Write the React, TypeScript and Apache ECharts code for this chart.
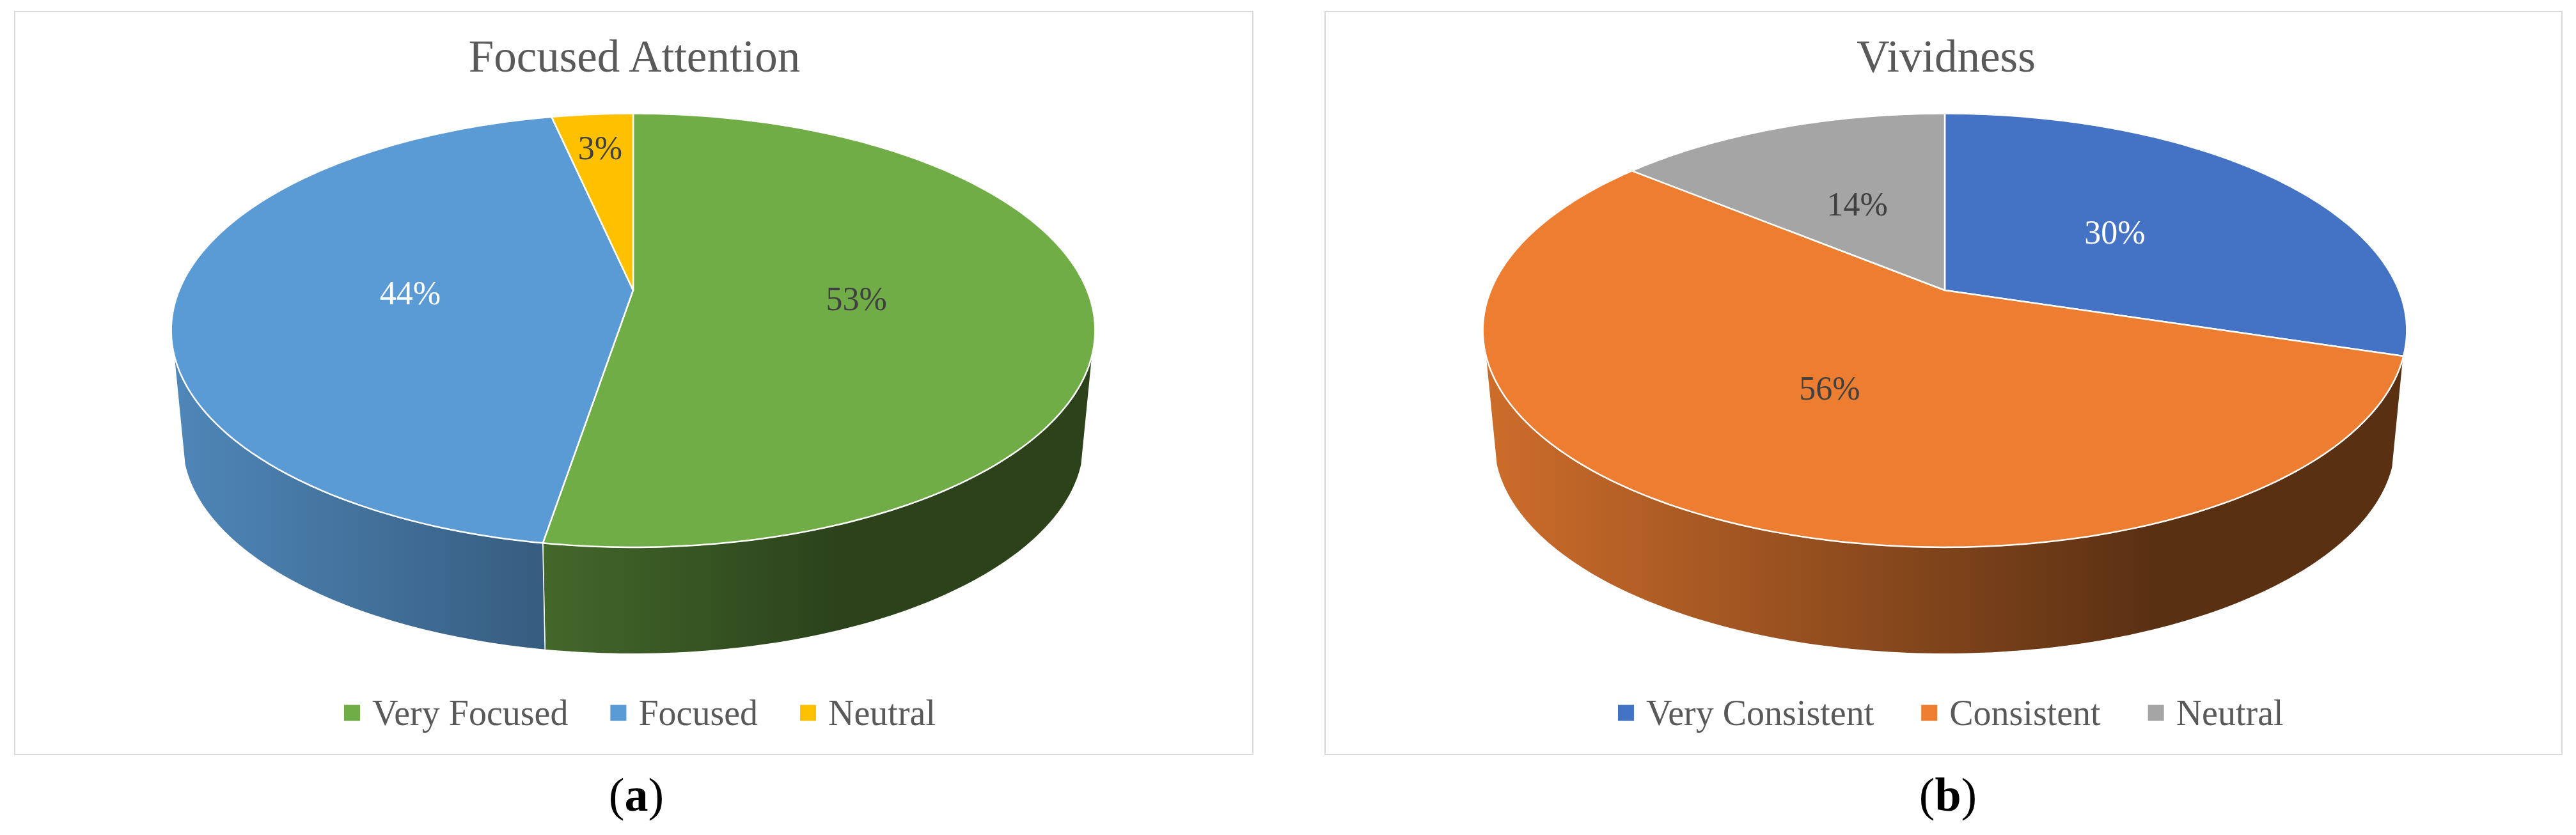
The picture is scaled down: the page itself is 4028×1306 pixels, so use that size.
import React, { useEffect, useRef } from "react";
import * as echarts from "echarts";

const focusedTitle = "Focused Attention";
const focusedCategories = ["Very Focused", "Focused", "Neutral"];
const focusedValues = [52.6, 44.0, 3.4];
const focusedColors = ["#70AD47", "#5B9BD5", "#FFC000"];
const focusedLabelColors = ["#404040", "#FFFFFF", "#404040"];
const focusedLabelRadii = [0.49, 0.49, 0.78];

const vividnessTitle = "Vividness";
const vividnessCategories = ["Very Consistent", "Consistent", "Neutral"];
const vividnessValues = [29.8, 56.2, 14.0];
const vividnessColors = ["#4472C4", "#ED7D31", "#A5A5A5"];
const vividnessLabelColors = ["#FFFFFF", "#404040", "#404040"];
const vividnessLabelRadii = [0.49, 0.49, 0.49];

const SERIF = "'Liberation Serif', serif";
const PERSPECTIVE = 0.1849;
const RADIUS_X = 709.9;
const RADIUS_Y = 327.6;
const PIVOT_Y = 454;
const BASE_PIVOT_Y = 630.5;
const BASE_SCALE = 0.976;
const SIDE_FROM = 106.5;
const SIDE_TO = 253.5;

function shade(hex: string, f: number) {
  const n = parseInt(hex.slice(1), 16);
  const c = [(n >> 16) & 255, (n >> 8) & 255, n & 255].map((v) => Math.round(v * f));
  return `rgb(${c[0]},${c[1]},${c[2]})`;
}

function project(cx: number, deg: number, f: number, base: boolean) {
  const t = (deg * Math.PI) / 180;
  const u = f * Math.sin(t);
  const v = f * Math.cos(t);
  const w = 1 + PERSPECTIVE * v;
  const s = base ? BASE_SCALE : 1;
  return [cx + (s * RADIUS_X * u) / w, (base ? BASE_PIVOT_Y : PIVOT_Y) - (s * RADIUS_Y * v) / w];
}

function arc(cx: number, a: number, b: number, base: boolean) {
  const n = Math.max(2, Math.ceil(Math.abs(b - a)));
  const pts: number[][] = [];
  for (let i = 0; i <= n; i++) pts.push(project(cx, a + ((b - a) * i) / n, 1, base));
  return pts;
}

type Panel = {
  title: string;
  categories: string[];
  values: number[];
  colors: string[];
  labelColors: string[];
  labelRadii: number[];
  caption: string;
  left: number;
  width: number;
  cx: number;
  frameX: number;
  frameW: number;
  legendLeft: number;
  legendGap: number;
};

function buildOption(p: Panel) {
  const total = p.values.reduce((a, b) => a + b, 0);
  let acc = 0;
  const series = p.categories.map((name, i) => {
    const start = (acc / total) * 360;
    acc += p.values[i];
    return {
      type: "custom",
      name,
      coordinateSystem: "none",
      silent: true,
      itemStyle: { color: p.colors[i] },
      data: [[p.values[i]]],
      renderItem: (_: any, api: any) => {
        const span = (api.value(0) / total) * 360;
        const a = start;
        const b = start + span;
        const mid = (a + b) / 2;
        const top = arc(p.cx, a, b, false);
        const lp = project(p.cx, mid, p.labelRadii[i], false);
        const x0 = p.cx - RADIUS_X * 1.018;
        const x1 = p.cx + RADIUS_X * 1.018;
        const sa = Math.max(a, SIDE_FROM);
        const sb = Math.min(b, SIDE_TO);
        const children: any[] = [];
        if (sb > sa) {
          children.push({
            type: "polygon",
            z2: 1,
            shape: { points: arc(p.cx, sa, sb, false).concat(arc(p.cx, sb, sa, true)) },
            style: {
              fill: {
                type: "linear",
                global: true,
                x: x0,
                y: 0,
                x2: x1,
                y2: 0,
                colorStops: [
                  { offset: 0, color: shade(p.colors[i], 0.87) },
                  { offset: 0.725, color: shade(p.colors[i], 0.38) },
                  { offset: 1, color: shade(p.colors[i], 0.38) },
                ],
              },
              stroke: "#FFFFFF",
              lineWidth: 1.5,
              lineJoin: "round",
            },
          });
        }
        children.push(
          {
            type: "polygon",
            z2: 10,
            shape: { points: [project(p.cx, a, 0, false)].concat(top) },
            style: {
              fill: p.colors[i],
              stroke: "#FFFFFF",
              lineWidth: 2.5,
              lineJoin: "round",
            },
          },
          {
            type: "text",
            z2: 20,
            x: lp[0],
            y: lp[1],
            style: {
              text: `${Math.round((api.value(0) / total) * 100)}%`,
              fill: p.labelColors[i],
              fontSize: 52,
              fontFamily: SERIF,
              align: "center",
              verticalAlign: "middle",
            },
          }
        );
        return { type: "group", children };
      },
    };
  });
  return {
    animation: false,
    backgroundColor: "#FFFFFF",
    title: [
      {
        text: p.title,
        left: p.cx - 3,
        top: 47,
        textAlign: "center",
        textStyle: { fontFamily: SERIF, fontSize: 71, fontWeight: "normal", color: "#595959" },
      },
      {
        text: `({b|${p.caption}})`,
        left: p.cx,
        top: 1201,
        textAlign: "center",
        textStyle: {
          fontFamily: SERIF,
          fontSize: 74,
          fontWeight: "normal",
          color: "#000000",
          rich: { b: { fontFamily: SERIF, fontSize: 74, fontWeight: "bold", color: "#000000" } },
        },
      },
    ],
    legend: {
      left: p.legendLeft,
      top: 1087,
      padding: 0,
      icon: "rect",
      itemWidth: 25,
      itemHeight: 25,
      itemGap: p.legendGap,
      selectedMode: false,
      data: p.categories,
      textStyle: { fontFamily: SERIF, fontSize: 56, color: "#595959", padding: [0, 0, 0, 14] },
    },
    graphic: [
      {
        type: "rect",
        silent: true,
        z: -1,
        shape: { x: p.frameX, y: 18, width: p.frameW, height: 1162 },
        style: { fill: "#FFFFFF", stroke: "#D9D9D9", lineWidth: 2 },
      },
    ],
    series,
  };
}

const panels: Panel[] = [
  {
    title: focusedTitle,
    categories: focusedCategories,
    values: focusedValues,
    colors: focusedColors,
    labelColors: focusedLabelColors,
    labelRadii: focusedLabelRadii,
    caption: "a",
    left: 0,
    width: 2014,
    cx: 990,
    frameX: 23,
    frameW: 1936,
    legendLeft: 538,
    legendGap: 66,
  },
  {
    title: vividnessTitle,
    categories: vividnessCategories,
    values: vividnessValues,
    colors: vividnessColors,
    labelColors: vividnessLabelColors,
    labelRadii: vividnessLabelRadii,
    caption: "b",
    left: 2014,
    width: 2014,
    cx: 1027,
    frameX: 58,
    frameW: 1934,
    legendLeft: 516,
    legendGap: 74,
  },
];

function PieChart({ panel }: { panel: Panel }) {
  const ref = useRef<HTMLDivElement>(null);
  useEffect(() => {
    const chart = echarts.init(ref.current!, undefined, { renderer: "svg" });
    chart.setOption(buildOption(panel) as any);
    return () => chart.dispose();
  }, [panel]);
  return (
    <div
      ref={ref}
      style={{ position: "absolute", left: panel.left, top: 0, width: panel.width, height: 1306 }}
    />
  );
}

export default function App() {
  return (
    <div style={{ position: "fixed", left: 0, top: 0, width: 4028, height: 1306, background: "#FFFFFF" }}>
      {panels.map((p) => (
        <PieChart key={p.caption} panel={p} />
      ))}
    </div>
  );
}
